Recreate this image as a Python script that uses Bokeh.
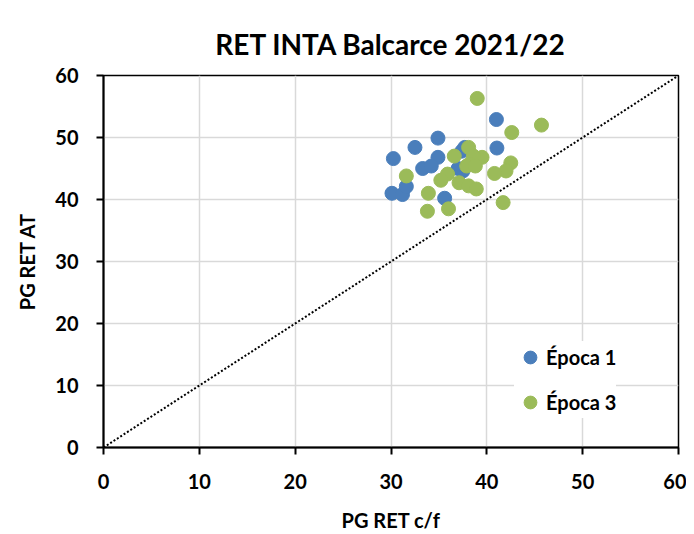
from bokeh.plotting import figure
from bokeh.models import Range1d, Legend, LegendItem, FixedTicker, Title
from bokeh.embed import file_html
from bokeh.resources import INLINE

# Época 1 (blue)
e1_x = [30.25, 32.5, 34.9, 34.9, 33.3, 34.2, 30.1, 31.2, 31.6, 35.6, 37.7, 37.5, 37.4, 41.0, 41.05, 37.0]
e1_y = [46.6, 48.4, 49.9, 46.8, 45.0, 45.4, 41.0, 40.8, 42.1, 40.2, 48.4, 44.6, 47.8, 52.9, 48.3, 45.0]

# Época 3 (green)
e3_x = [39.0, 45.7, 42.6, 38.1, 36.6, 39.5, 38.6, 38.2, 37.9, 31.6, 35.9, 35.2, 42.5, 42.0, 40.8,
        37.1, 38.1, 38.9, 33.9, 41.7, 33.8, 36.0, 38.8]
e3_y = [56.3, 52.0, 50.8, 48.4, 47.0, 46.8, 47.0, 45.7, 45.4, 43.8, 44.1, 43.1, 45.9, 44.6, 44.2,
        42.7, 42.2, 41.7, 41.0, 39.5, 38.1, 38.5, 45.4]

ref_x = [0, 60]
ref_y = [0, 60]
ticks = [0, 10, 20, 30, 40, 50, 60]

FONT = "Lato"

p = figure(width=686, height=534, output_backend="svg", toolbar_location=None,
           x_range=Range1d(0, 60), y_range=Range1d(0, 60),
           min_border_left=103, min_border_right=8, min_border_top=75, min_border_bottom=87)
p.title = None
p.add_layout(Title(text="RET INTA Balcarce 2021/22", align="center", text_font=FONT,
                   text_font_size="28px", text_font_style="bold", text_color="#000000",
                   offset=0, standoff=30), "above")

p.outline_line_color = "#000000"
p.outline_line_width = 1.5
for ax in (p.xaxis[0], p.yaxis[0]):
    ax.ticker = FixedTicker(ticks=ticks)
    ax.axis_line_color = "#000000"
    ax.axis_line_width = 2
    ax.major_tick_line_color = "#000000"
    ax.major_tick_line_width = 2
    ax.major_tick_out = 7
    ax.major_tick_in = 0
    ax.minor_tick_line_color = None
    ax.major_label_text_font = FONT
    ax.major_label_text_font_size = "20px"
    ax.major_label_text_font_style = "bold"
    ax.major_label_text_color = "#000000"
    ax.axis_label_text_font = FONT
    ax.axis_label_text_font_size = "20px"
    ax.axis_label_text_font_style = "bold"
    ax.axis_label_text_color = "#000000"

p.xaxis.axis_label = "PG RET c/f"
p.yaxis.axis_label = "PG RET AT"
p.xaxis.major_label_standoff = 19
p.yaxis.major_label_standoff = 18
p.xaxis.axis_label_standoff = 16
p.yaxis.axis_label_standoff = 13

p.xgrid.grid_line_color = "#d9d9d9"
p.ygrid.grid_line_color = "#d9d9d9"
p.xgrid.grid_line_width = 1.5
p.ygrid.grid_line_width = 1.5

p.line(ref_x, ref_y, line_color="#000000", line_width=2, line_dash="2 2")

r1 = p.scatter(e1_x, e1_y, size=14, fill_color="#4a7ebb", line_color="#4a7ebb")
r3 = p.scatter(e3_x, e3_y, size=14, fill_color="#9bbb59", line_color="#9bbb59")

legend = Legend(items=[LegendItem(label="Época 1", renderers=[r1]),
                       LegendItem(label="Época 3", renderers=[r3])],
                location=(411, 29), orientation="vertical",
                label_text_font=FONT, label_text_font_size="20px", label_text_font_style="bold",
                label_text_color="#000000", label_standoff=0,
                glyph_width=32, glyph_height=32, label_height=20, spacing=13,
                padding=4, margin=0, border_line_color=None,
                background_fill_color="#ffffff", background_fill_alpha=1.0)
p.add_layout(legend, "center")

open("out.html", "w").write(file_html(p, INLINE))
